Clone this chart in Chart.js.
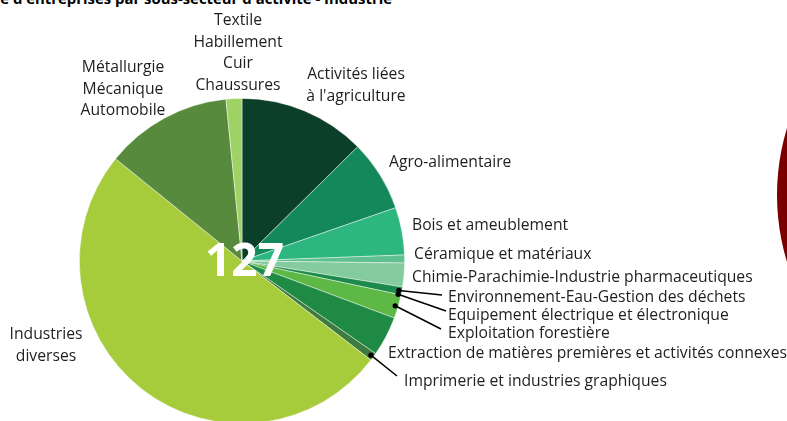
<!DOCTYPE html>
<html>
<head>
<meta charset="utf-8">
<script src="https://cdn.jsdelivr.net/npm/chart.js@4/dist/chart.umd.min.js"></script>
<style>
  html, body { margin: 0; padding: 0; width: 787px; height: 421px; overflow: hidden; background: #ffffff; position: relative; }
  #main { position: absolute; left: 0; top: 0; }
  #side { position: absolute; left: 777px; top: -34px; }
  #title { position: absolute; right: 395px; top: -11px; font: bold 14.9px "Open Sans", sans-serif; color: #000; white-space: nowrap; line-height: 18px; }
</style>
</head>
<body>
<div id="title">Nombre d'entreprises par sous-secteur d'activité - Industrie</div>
<canvas id="main" width="787" height="450"></canvas>
<canvas id="side" width="458" height="458"></canvas>
<script>
// ---- data ----
const categories = [
  "Activités liées à l'agriculture",
  "Agro-alimentaire",
  "Bois et ameublement",
  "Céramique et matériaux",
  "Chimie-Parachimie-Industrie pharmaceutiques",
  "Environnement-Eau-Gestion des déchets",
  "Equipement électrique et électronique",
  "Exploitation forestière",
  "Extraction de matières premières et activités connexes",
  "Imprimerie et industries graphiques",
  "Industries diverses",
  "Métallurgie Mécanique Automobile",
  "Textile Habillement Cuir Chaussures"
];
const counts = [16, 9, 6, 1, 3, 1, 0, 3, 5, 1, 64, 16, 2];
const sliceColors = [
  "#0b3f29", "#13895b", "#2db67e", "#5fbf8e", "#84cb9d", "#1b8a4b",
  "#74c25b", "#5db846", "#1f8a44", "#3e7b3e", "#a6cc3b", "#578a3d", "#9fd265"
];
const labelLines = [
  ["Activités liées", "à l'agriculture"],
  ["Agro-alimentaire"],
  ["Bois et ameublement"],
  ["Céramique et matériaux"],
  ["Chimie-Parachimie-Industrie pharmaceutiques"],
  ["Environnement-Eau-Gestion des déchets"],
  ["Equipement électrique et électronique"],
  ["Exploitation forestière"],
  ["Extraction de matières premières et activités connexes"],
  ["Imprimerie et industries graphiques"],
  ["Industries", "diverses"],
  ["Métallurgie", "Mécanique", "Automobile"],
  ["Textile", "Habillement", "Cuir", "Chaussures"]
];

// ---- label layout (positions only) ----
const labelLayout = [
  { x: 356, y: 75, align: "center" },
  { x: 389, y: 163, align: "left" },
  { x: 412, y: 226, align: "left" },
  { x: 414, y: 255, align: "left" },
  { x: 412, y: 278, align: "left" },
  { x: 448, y: 298, align: "left", leader: [442, 295] },
  { x: 448, y: 316, align: "left", leader: [446, 311] },
  { x: 448, y: 334, align: "left", leader: [441, 329] },
  { x: 388, y: 354, align: "left" },
  { x: 404, y: 382, align: "left", leader: [397, 376] },
  { x: 46, y: 335, align: "center" },
  { x: 123, y: 68, align: "center" },
  { x: 238, y: 21, align: "center" }
];
const lineHeight = 21.5;
const labelFont = '15.7px "Open Sans", sans-serif';

const labelPlugin = {
  id: "pieLabels",
  afterDraw(chart) {
    const ctx = chart.ctx;
    const meta = chart.getDatasetMeta(0);
    ctx.save();
    ctx.font = labelFont;
    ctx.fillStyle = "#1e1e1e";
    ctx.textBaseline = "middle";
    labelLayout.forEach((lay, i) => {
      const arc = meta.data[i];
      if (lay.leader) {
        const p = arc.getProps(["x", "y", "startAngle", "endAngle", "outerRadius"], true);
        const mid = (p.startAngle + p.endAngle) / 2;
        const r = p.outerRadius - 3;
        const ax = p.x + Math.cos(mid) * r;
        const ay = p.y + Math.sin(mid) * r;
        ctx.strokeStyle = "#000";
        ctx.lineWidth = 1.5;
        ctx.beginPath();
        ctx.moveTo(ax, ay);
        ctx.lineTo(lay.leader[0], lay.leader[1]);
        ctx.stroke();
        ctx.beginPath();
        ctx.arc(ax, ay, 2.6, 0, Math.PI * 2);
        ctx.fillStyle = "#000";
        ctx.fill();
        ctx.fillStyle = "#1e1e1e";
      }
      ctx.textAlign = lay.align;
      labelLines[i].forEach((line, k) => {
        ctx.fillText(line, lay.x, lay.y + k * lineHeight);
      });
    });
    // total in the centre
    const total = counts.reduce((a, b) => a + b, 0);
    const p0 = meta.data[0].getProps(["x", "y"], true);
    ctx.font = 'bold 46px "Open Sans", sans-serif';
    ctx.fillStyle = "#ffffff";
    ctx.textAlign = "center";
    ctx.textBaseline = "middle";
    ctx.fillText(String(total), p0.x + 2.5, p0.y + 2);
    ctx.restore();
  }
};

new Chart(document.getElementById("main"), {
  type: "pie",
  data: {
    labels: categories,
    datasets: [{
      data: counts,
      backgroundColor: sliceColors,
      borderColor: "rgba(255,255,255,0.55)",
      borderWidth: 0.8
    }]
  },
  options: {
    responsive: false,
    animation: false,
    devicePixelRatio: 1,
    layout: { padding: { left: 79, right: 382, top: 98, bottom: 26 } },
    plugins: { legend: { display: false }, tooltip: { enabled: false }, title: { display: false } }
  },
  plugins: [labelPlugin]
});

// neighbouring chart, only its left edge is visible
new Chart(document.getElementById("side"), {
  type: "pie",
  data: { labels: ["autre"], datasets: [{ data: [1], backgroundColor: ["#7a0000"], borderWidth: 0 }] },
  options: {
    responsive: false,
    animation: false,
    devicePixelRatio: 1,
    plugins: { legend: { display: false }, tooltip: { enabled: false } }
  }
});
</script>
</body>
</html>
